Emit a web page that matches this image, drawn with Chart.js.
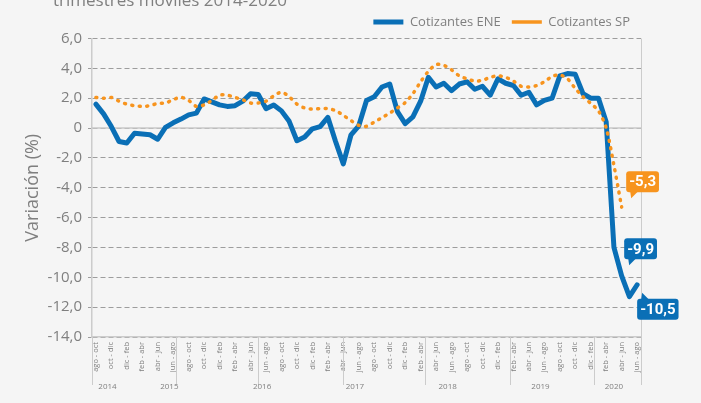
<!DOCTYPE html>
<html>
<head>
<meta charset="utf-8">
<script src="https://cdn.jsdelivr.net/npm/chart.js@4.4.1/dist/chart.umd.min.js"></script>
<style>
  html, body { margin: 0; padding: 0; background: #f5f5f5; }
  #wrap { width: 701px; height: 403px; position: relative; }
  canvas { display: block; }
</style>
</head>
<body>
<div id="wrap"><canvas id="c" width="701" height="403"></canvas></div>
<script>
// ---------- DATA ----------
const chartTitle = 'trimestres móviles 2014-2020';
const yAxisTitle = 'Variación (%)';

const categories = [
  'ago - oct', 'sep - nov', 'oct - dic', 'nov - ene',
  'dic - feb', 'ene - mar', 'feb - abr', 'mar - may', 'abr - jun', 'may - jul', 'jun - ago', 'jul - sep', 'ago - oct', 'sep - nov', 'oct - dic', 'nov - ene',
  'dic - feb', 'ene - mar', 'feb - abr', 'mar - may', 'abr - jun', 'may - jul', 'jun - ago', 'jul - sep', 'ago - oct', 'sep - nov', 'oct - dic', 'nov - ene',
  'dic - feb', 'ene - mar', 'feb - abr', 'mar - may', 'abr - jun', 'may - jul', 'jun - ago', 'jul - sep', 'ago - oct', 'sep - nov', 'oct - dic', 'nov - ene',
  'dic - feb', 'ene - mar', 'feb - abr', 'mar - may', 'abr - jun', 'may - jul', 'jun - ago', 'jul - sep', 'ago - oct', 'sep - nov', 'oct - dic', 'nov - ene',
  'dic - feb', 'ene - mar', 'feb - abr', 'mar - may', 'abr - jun', 'may - jul', 'jun - ago', 'jul - sep', 'ago - oct', 'sep - nov', 'oct - dic', 'nov - ene',
  'dic - feb', 'ene - mar', 'feb - abr', 'mar - may', 'abr - jun', 'may - jul', 'jun - ago'
];

const seriesNames = ['Cotizantes ENE', 'Cotizantes SP'];

const cotizantesENE = [
  1.6, 0.95, 0.1, -0.9, -1.0, -0.35, -0.4, -0.45, -0.75, 0.05,
  0.35, 0.6, 0.88, 1.0, 1.95, 1.75, 1.55, 1.45, 1.5, 1.8,
  2.3, 2.25, 1.3, 1.55, 1.15, 0.45, -0.85, -0.6, -0.05, 0.1,
  0.72, -0.9, -2.4, -0.45, 0.15, 1.85, 2.1, 2.75, 2.95, 1.1,
  0.3, 0.75, 1.8, 3.4, 2.75, 3.0, 2.5, 2.95, 3.1, 2.6,
  2.8, 2.2, 3.3, 3.0, 2.85, 2.2, 2.4, 1.55, 1.85, 2.0,
  3.5, 3.65, 3.6, 2.3, 2.0, 2.0, 0.4, -8.0, -9.9, -11.3,
  -10.5
];

const cotizantesSP = [
  2.05, 2.0, 2.05, 1.8, 1.6, 1.5, 1.45, 1.5, 1.65, 1.68,
  1.9, 2.06, 1.85, 1.45, 1.55, 1.85, 2.2, 2.2, 2.05, 1.9,
  1.68, 1.68, 1.8, 2.15, 2.4, 2.1, 1.6, 1.35, 1.27, 1.3,
  1.3, 1.17, 0.85, 0.5, 0.18, 0.12, 0.4, 0.7, 1.0, 1.35,
  1.7, 2.3, 3.1, 3.8, 4.25, 4.2, 3.9, 3.5, 3.3, 3.15,
  3.2, 3.4, 3.5, 3.4, 3.15, 2.8, 2.75, 2.85, 3.1, 3.45,
  3.56, 3.3, 2.65, 2.1, 1.65, 1.15, 0.0, -2.5, -5.3
];

const yearLabels = ['2014', '2015', '2016', '2017', '2018', '2019', '2020'];
const yearFirstIndex = [0, 4, 16, 28, 40, 52, 64];
const yearLastIndex = [3, 15, 27, 39, 51, 63, 70];
const yearDividerIndex = [-0.5, 10.4, 21, 31.9, 42.6, 53.5, 64.4, 70.5];

const yMin = -14, yMax = 6, yStep = 2;

// ---------- STYLE ----------
const BLUE = '#0a6fb6';
const ORANGE = '#f7941e';
const GREY_TEXT = '#7f7f7f';
const FONT = "'Open Sans', sans-serif";

// callouts: dataset index, point index, box offset and pointer direction
const callouts = [
  { dataset: 1, index: 68, color: ORANGE, dx: 4.5, dy: -36, pointer: 'down' },
  { dataset: 0, index: 68, color: BLUE, dx: 2.5, dy: -37.5, pointer: 'down' },
  { dataset: 0, index: 70, color: BLUE, dx: 0, dy: 14, pointer: 'up' }
];

Chart.defaults.font.family = FONT;
Chart.defaults.color = GREY_TEXT;

const fmt = v => (v === 0 ? '0' : v.toFixed(1).replace('.', ','));

const extras = {
  id: 'extras',
  beforeDraw(chart) {
    const ctx = chart.ctx;
    ctx.save();
    ctx.fillStyle = '#f5f5f5';
    ctx.fillRect(0, 0, chart.width, chart.height);
    ctx.fillStyle = GREY_TEXT;
    ctx.font = "17px " + FONT;
    ctx.textAlign = 'left';
    ctx.textBaseline = 'alphabetic';
    ctx.fillText(chartTitle, 53, 6);
    ctx.restore();
  },
  beforeDatasetsDraw(chart) {
    const { ctx, chartArea: a, scales: { x, y } } = chart;
    ctx.save();
    // zero line
    const y0 = y.getPixelForValue(0);
    ctx.strokeStyle = '#c9c9c9';
    ctx.lineWidth = 1.5;
    ctx.beginPath();
    ctx.moveTo(a.left, y0);
    ctx.lineTo(a.right, y0);
    ctx.stroke();
    // year dividers below the axis, right edge line
    ctx.lineWidth = 1;
    ctx.strokeStyle = '#cccccc';
    yearDividerIndex.forEach((b, i) => {
      const px = Math.round(x.getPixelForValue(b)) + 0.5;
      const top = (i === yearDividerIndex.length - 1) ? a.top : a.bottom;
      ctx.beginPath();
      ctx.moveTo(px, top);
      ctx.lineTo(px, a.bottom + 48);
      ctx.stroke();
    });
    // year labels
    ctx.fillStyle = GREY_TEXT;
    ctx.font = "8px " + FONT;
    ctx.textAlign = 'center';
    ctx.textBaseline = 'middle';
    yearLabels.forEach((t, i) => {
      const c = (yearFirstIndex[i] + yearLastIndex[i]) / 2;
      ctx.fillText(t, x.getPixelForValue(c), a.bottom + 50);
    });
    ctx.restore();
  },
  afterDatasetsDraw(chart) {
    const ctx = chart.ctx;
    ctx.save();
    callouts.forEach(c => {
      const pt = chart.getDatasetMeta(c.dataset).data[c.index];
      const v = chart.data.datasets[c.dataset].data[c.index];
      const text = fmt(v);
      ctx.font = "bold 15px Roboto";
      const w = ctx.measureText(text).width + 6;
      const h = 21;
      const bx = pt.x + c.dx, by = pt.y + c.dy;
      ctx.fillStyle = c.color;
      ctx.beginPath();
      ctx.roundRect(bx, by, w, h, 3);
      ctx.fill();
      ctx.beginPath();
      if (c.pointer === 'down') {
        ctx.moveTo(bx + 4, by + h - 1);
        ctx.lineTo(bx + 12, by + h - 1);
        ctx.lineTo(bx + 5, by + h + 6);
      } else {
        ctx.moveTo(bx + 4, by + 1);
        ctx.lineTo(bx + 12, by + 1);
        ctx.lineTo(bx + 5, by - 6);
      }
      ctx.closePath();
      ctx.fill();
      ctx.fillStyle = '#ffffff';
      ctx.textAlign = 'center';
      ctx.textBaseline = 'middle';
      ctx.fillText(text, bx + w / 2, by + h / 2 + 1);
    });
    ctx.restore();
  }
};

new Chart(document.getElementById('c'), {
  type: 'line',
  data: {
    labels: categories,
    datasets: [
      {
        label: seriesNames[0],
        data: cotizantesENE,
        borderColor: BLUE,
        backgroundColor: BLUE,
        borderWidth: 5,
        borderCapStyle: 'round',
        borderJoinStyle: 'round',
        pointRadius: 0,
        pointHoverRadius: 0,
        tension: 0,
        order: 1
      },
      {
        label: seriesNames[1],
        data: cotizantesSP,
        borderColor: ORANGE,
        backgroundColor: ORANGE,
        borderWidth: 3.5,
        borderDash: [1, 6.5],
        borderCapStyle: 'round',
        borderJoinStyle: 'round',
        pointRadius: 0,
        pointHoverRadius: 0,
        tension: 0.3,
        order: 0
      }
    ]
  },
  options: {
    responsive: false,
    animation: false,
    events: [],
    layout: { padding: { left: 0, right: 60, top: 4.5, bottom: 8 } },
    plugins: {
      legend: {
        display: true,
        position: 'top',
        align: 'end',
        labels: {
          usePointStyle: true,
          pointStyle: 'line',
          pointStyleWidth: 30,
          boxWidth: 30,
          padding: 11,
          color: GREY_TEXT,
          font: { size: 13, family: FONT },
          sort: (a, b) => a.datasetIndex - b.datasetIndex
        }
      },
      tooltip: { enabled: false },
      title: { display: false }
    },
    scales: {
      x: {
        type: 'category',
        offset: true,
        grid: { display: false, drawTicks: false },
        border: { display: true, color: '#cccccc', width: 1.5 },
        ticks: {
          autoSkip: false,
          maxRotation: 90,
          minRotation: 90,
          padding: 5,
          color: GREY_TEXT,
          font: { size: 7.5, family: FONT },
          callback: (val, i) => (i % 2 === 0 ? categories[i] : '')
        },
        afterFit: s => { s.height = 58; }
      },
      y: {
        min: yMin,
        max: yMax,
        ticks: {
          stepSize: yStep,
          padding: 6,
          color: GREY_TEXT,
          font: { size: 15, family: FONT },
          callback: v => fmt(v)
        },
        grid: {
          color: '#9d9d9d',
          lineWidth: 1,
          drawTicks: true,
          tickLength: 4,
          tickColor: '#9d9d9d'
        },
        border: { display: true, color: '#cccccc', width: 1.5, dash: [5, 3] },
        title: {
          display: true,
          text: yAxisTitle,
          color: GREY_TEXT,
          font: { size: 18, family: FONT },
          padding: { top: 22, bottom: 0 }
        },
        afterFit: s => { s.width = 92; }
      }
    }
  },
  plugins: [extras]
});
</script>
</body>
</html>
